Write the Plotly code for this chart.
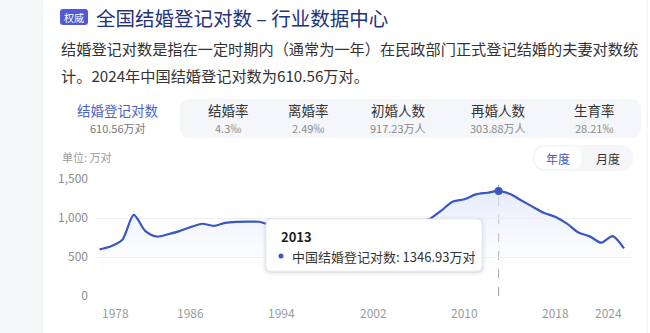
import plotly.graph_objects as go

years = list(range(1978, 2025))
marriages = [597.8, 637.1, 720.9, 1040.3, 835.0, 762.9, 791.4, 831.3, 884.1, 926.5,
             899.6, 937.2, 951.1, 953.8, 951.5, 912.1, 929.0, 934.1, 938.5, 914.1,
             891.7, 885.3, 848.5, 805.0, 786.0, 811.4, 867.2, 823.1, 945.0, 991.4,
             1098.3, 1212.4, 1241.0, 1302.4, 1323.6, 1346.93, 1306.7, 1224.7, 1142.8, 1063.1,
             1013.9, 927.3, 814.3, 764.3, 683.5, 768.2, 610.56]
x_tick_years = [1978, 1986, 1994, 2002, 2010, 2018, 2024]
y_ticks = [0, 500, 1000, 1500]
highlight_year = 2013

tab_names = ["结婚登记对数", "结婚率", "离婚率", "初婚人数", "再婚人数", "生育率"]
tab_values = ["610.56万对", "4.3‰", "2.49‰", "917.23万人", "303.88万人", "28.21‰"]

FONT = "Noto Sans CJK SC"
LINE = "#3a56c5"
W, H = 650, 333
L, R, T, B = 95, 632, 179, 296


def px(x):
    return (x - L) / (R - L)


def py(y):
    return (B - y) / (B - T)


def rrect(x0, y0, x1, y1, r):
    # rounded rect in pixel coords -> path in paper coords
    rx = r / (R - L)
    ry = r / (B - T)
    X0, X1 = px(x0), px(x1)
    Y0, Y1 = py(y0), py(y1)  # Y0 top (larger), Y1 bottom
    return (f"M{X0+rx},{Y0} L{X1-rx},{Y0} Q{X1},{Y0} {X1},{Y0-ry} "
            f"L{X1},{Y1+ry} Q{X1},{Y1} {X1-rx},{Y1} L{X0+rx},{Y1} "
            f"Q{X0},{Y1} {X0},{Y1+ry} L{X0},{Y0-ry} Q{X0},{Y0} {X0+rx},{Y0} Z")


fig = go.Figure()
fig.add_trace(go.Scatter(
    x=years, y=marriages, mode="lines",
    line=dict(color=LINE, width=2.2, shape="spline", smoothing=0.8),
    fill="tozeroy",
    fillgradient=dict(type="vertical",
                      colorscale=[[0, "rgba(255,255,255,0)"], [1, "rgba(220,228,250,0.75)"]]),
    hoverinfo="skip", showlegend=False,
))
hi = years.index(highlight_year)
fig.add_trace(go.Scatter(
    x=[years[hi]], y=[marriages[hi]], mode="markers",
    marker=dict(color=LINE, size=8), hoverinfo="skip", showlegend=False,
))

shapes = []
annotations = []

# background strips
shapes.append(dict(type="rect", xref="paper", yref="paper", x0=px(0), x1=px(42), y0=py(333), y1=py(0),
                   fillcolor="#f6f7f9", line=dict(width=0), layer="below"))
shapes.append(dict(type="line", xref="paper", yref="paper", x0=px(42), x1=px(42), y0=py(333), y1=py(0),
                   line=dict(color="#eceef2", width=1), layer="below"))
shapes.append(dict(type="line", xref="paper", yref="paper", x0=px(647), x1=px(647), y0=py(333), y1=py(0),
                   line=dict(color="#eceef2", width=1), layer="below"))

# title badge + title
shapes.append(dict(type="path", xref="paper", yref="paper", path=rrect(60, 9, 88, 25, 3),
                   fillcolor="#4f5bd5", line=dict(width=0)))
annotations.append(dict(text="权威", x=px(74), y=py(17), xref="paper", yref="paper", showarrow=False,
                        font=dict(family=FONT, size=10, color="white"), xanchor="center", yanchor="middle"))
annotations.append(dict(text="全国结婚登记对数 – 行业数据中心", x=px(94), y=py(17), xref="paper", yref="paper",
                        showarrow=False, font=dict(family=FONT, size=19.5, color="#22327a"),
                        xanchor="left", yanchor="middle"))
annotations.append(dict(text="结婚登记对数是指在一定时期内（通常为一年）在民政部门正式登记结婚的夫妻对数统",
                        x=px(59), y=py(48), xref="paper", yref="paper", showarrow=False,
                        font=dict(family=FONT, size=15.2, color="#333333"), xanchor="left", yanchor="middle"))
annotations.append(dict(text="计。2024年中国结婚登记对数为610.56万对。",
                        x=px(59), y=py(75), xref="paper", yref="paper", showarrow=False,
                        font=dict(family=FONT, size=15.2, color="#333333"), xanchor="left", yanchor="middle"))

# tabs
shapes.append(dict(type="path", xref="paper", yref="paper", path=rrect(180, 99, 641, 138, 10),
                   fillcolor="#f4f6fa", line=dict(width=0), layer="below"))
tab_x = [118, 228, 308, 398, 498, 594]
for i, (n, v) in enumerate(zip(tab_names, tab_values)):
    annotations.append(dict(text=n, x=px(tab_x[i]), y=py(110), xref="paper", yref="paper", showarrow=False,
                            font=dict(family=FONT, size=13.5, color="#4a62cf" if i == 0 else "#333333"),
                            xanchor="center", yanchor="middle"))
    annotations.append(dict(text=v, x=px(tab_x[i]), y=py(127.5), xref="paper", yref="paper", showarrow=False,
                            font=dict(family=FONT, size=11, color="#777777" if i == 0 else "#8a8a8a"),
                            xanchor="center", yanchor="middle"))

# unit + toggle
annotations.append(dict(text="单位: 万对", x=px(60), y=py(157), xref="paper", yref="paper", showarrow=False,
                        font=dict(family=FONT, size=11, color="#9a9a9a"), xanchor="left", yanchor="middle"))
shapes.append(dict(type="path", xref="paper", yref="paper", path=rrect(533, 145, 633, 171, 13),
                   fillcolor="#f5f6fa", line=dict(width=0)))
shapes.append(dict(type="path", xref="paper", yref="paper", path=rrect(535, 147, 582, 169, 11),
                   fillcolor="#ffffff", line=dict(width=0)))
annotations.append(dict(text="年度", x=px(558), y=py(158), xref="paper", yref="paper", showarrow=False,
                        font=dict(family=FONT, size=12, color="#3f5bc9"), xanchor="center", yanchor="middle"))
annotations.append(dict(text="月度", x=px(608), y=py(158), xref="paper", yref="paper", showarrow=False,
                        font=dict(family=FONT, size=12, color="#333333"), xanchor="center", yanchor="middle"))

# crosshair
shapes.append(dict(type="line", xref="x", yref="paper", x0=highlight_year, x1=highlight_year, y0=0, y1=0.95,
                   line=dict(color="#9a9a9a", width=1, dash="dash"), layer="below"))

# x tick labels
for i, yr in enumerate(x_tick_years):
    anchor = "left" if i == 0 else ("right" if i == len(x_tick_years) - 1 else "center")
    annotations.append(dict(text=str(yr), x=yr, y=0, xref="x", yref="paper", yshift=-16, showarrow=False,
                            font=dict(family=FONT, size=12, color="#9a9a9a"),
                            xanchor=anchor, yanchor="middle"))

# tooltip
TT = (266, 219, 482, 271)
for k, a in [(4, 0.03), (2, 0.05), (1, 0.07)]:
    shapes.append(dict(type="path", xref="paper", yref="paper",
                       path=rrect(TT[0] - k, TT[1] - k + 1, TT[2] + k, TT[3] + k + 1, 6 + k),
                       fillcolor=f"rgba(60,70,110,{a})", line=dict(width=0)))
shapes.append(dict(type="path", xref="paper", yref="paper", path=rrect(*TT, 6),
                   fillcolor="#ffffff", line=dict(color="#eef0f4", width=1)))
annotations.append(dict(text=f"<b>{highlight_year}</b>", x=px(279), y=py(236), xref="paper", yref="paper",
                        showarrow=False, font=dict(family=FONT, size=13, color="#222222"),
                        xanchor="left", yanchor="middle"))
shapes.append(dict(type="circle", xref="paper", yref="paper", x0=px(278.5), x1=px(283.5), y0=py(253.5),
                   y1=py(258.5), fillcolor=LINE, line=dict(width=0)))
annotations.append(dict(text=f"中国结婚登记对数: {marriages[hi]:.2f}万对", x=px(290), y=py(256),
                        xref="paper", yref="paper", showarrow=False,
                        font=dict(family=FONT, size=13, color="#333333"), xanchor="left", yanchor="middle"))

fig.update_layout(
    width=W, height=H,
    margin=dict(l=L, r=W - R, t=T, b=H - B, pad=0),
    paper_bgcolor="white", plot_bgcolor="white",
    font=dict(family=FONT),
    shapes=shapes, annotations=annotations,
    xaxis=dict(range=[1977.6, 2024.7], showgrid=False, zeroline=False, showticklabels=False,
               showline=False, fixedrange=True),
    yaxis=dict(range=[0, 1500], tickvals=y_ticks, tickformat=",d", showgrid=True,
               gridcolor="#eef0f4", gridwidth=1, zeroline=False, showline=False,
               tickfont=dict(family=FONT, size=12, color="#8c8c8c"), ticklabelstandoff=6,
               fixedrange=True),
)

fig.write_html("out.html", config={"displayModeBar": False})
